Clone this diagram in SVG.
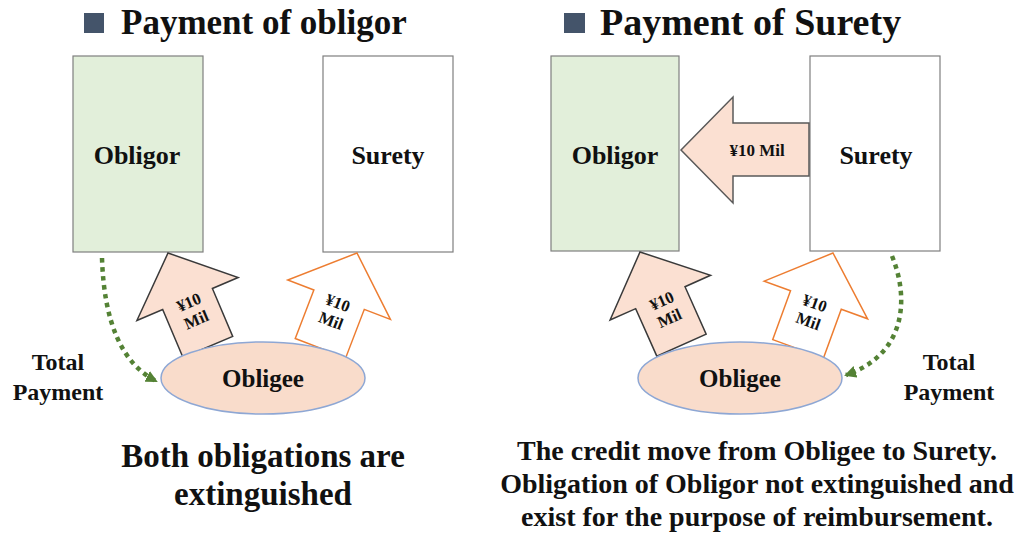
<svg xmlns="http://www.w3.org/2000/svg" width="1016" height="537" viewBox="0 0 1016 537">
<style>
text{font-family:"Liberation Serif","Times New Roman",serif;font-weight:bold;fill:#111;text-anchor:middle}
.title{text-anchor:start}
.box{stroke:#7f7f7f;stroke-width:1.2}
.green{fill:#e2efda}
.white{fill:#fff}
.pink{fill:#fbe0d2;stroke:#3a3a3a;stroke-width:1.5}
.orange{fill:#fff;stroke:#ed7d31;stroke-width:1.5}
.ell{fill:#f9dccb;stroke:#8ea7d4;stroke-width:1.5}
.dot{fill:none;stroke:#548235;stroke-width:4.5;stroke-dasharray:4.5 4.5}
.bul{fill:#44546a}
.al{font-size:16.5px}
</style>
<defs>
<polygon id="arr" points="0,0 55,50 27,50 27,102 -27,102 -27,50 -55,50"/>
<marker id="gh" viewBox="0 0 12 12" refX="10" refY="6" markerWidth="12" markerHeight="12" markerUnits="userSpaceOnUse" orient="auto">
<path d="M0,0 L12,6 L0,12 Z" fill="#548235"/>
</marker>
</defs>

<!-- Left panel -->
<rect class="bul" x="84" y="13" width="20" height="20"/>
<text class="title" x="121" y="34" font-size="35">Payment of obligor</text>

<g id="l-obligor">
<rect class="box green" x="73" y="56" width="130" height="196"/>
<text x="137" y="164" font-size="26">Obligor</text>
</g>
<g id="l-surety">
<rect class="box white" x="323" y="56" width="130" height="196"/>
<text x="388" y="164" font-size="26">Surety</text>
</g>

<g id="l-arrow-obligor">
<g transform="translate(168,253) rotate(-23)">
<use href="#arr" class="pink"/>
<text class="al" x="0" y="59">¥10</text>
<text class="al" x="0" y="78">Mil</text>
</g>
</g>
<g id="l-arrow-surety">
<g transform="translate(357,253) rotate(21)">
<use href="#arr" class="orange"/>
<text class="al" x="0" y="59">¥10</text>
<text class="al" x="0" y="78">Mil</text>
</g>
</g>

<g id="l-obligee">
<ellipse class="ell" cx="263" cy="378" rx="102" ry="36"/>
<text x="263" y="387" font-size="25">Obligee</text>
</g>

<g id="l-connectors">
<path class="dot" d="M102,258 Q105,355 156,381" marker-end="url(#gh)"/>
</g>
<g id="l-total">
<text x="58" y="370" font-size="24">Total</text>
<text x="58" y="400" font-size="24">Payment</text>
</g>

<text x="263" y="467" font-size="33">Both obligations are</text>
<text x="263" y="505" font-size="33">extinguished</text>

<!-- Right panel -->
<rect class="bul" x="564" y="13" width="21" height="20"/>
<text class="title" x="600" y="35" font-size="38">Payment of Surety</text>

<g id="r-obligor">
<rect class="box green" x="551" y="56" width="128" height="195"/>
<text x="615" y="164" font-size="26">Obligor</text>
</g>
<g id="r-surety">
<rect class="box white" x="810" y="56" width="130" height="195"/>
<text x="876" y="164" font-size="26">Surety</text>
</g>

<g id="r-arrow-reimb">
<polygon class="pink" style="stroke:#595959" points="681,150 733,97 733,123 809,123 809,176 733,176 733,203"/>
<text x="757" y="156" font-size="17">¥10 Mil</text>
</g>

<g id="r-arrow-obligor">
<g transform="translate(640,252) rotate(-24)">
<use href="#arr" class="pink"/>
<text class="al" x="0" y="59">¥10</text>
<text class="al" x="0" y="78">Mil</text>
</g>
</g>
<g id="r-arrow-surety">
<g transform="translate(833,253) rotate(20)">
<use href="#arr" class="orange"/>
<text class="al" x="0" y="59">¥10</text>
<text class="al" x="0" y="78">Mil</text>
</g>
</g>

<g id="r-obligee">
<ellipse class="ell" cx="740" cy="378" rx="102" ry="36"/>
<text x="740" y="387" font-size="25">Obligee</text>
</g>

<g id="r-connectors">
<path class="dot" d="M892,256 C910,300 905,355 846,375" marker-end="url(#gh)"/>
</g>
<g id="r-total">
<text x="949" y="370" font-size="24">Total</text>
<text x="949" y="400" font-size="24">Payment</text>
</g>

<text x="757" y="460" font-size="28">The credit move from Obligee to Surety.</text>
<text x="757" y="493" font-size="28">Obligation of Obligor not extinguished and</text>
<text x="757" y="526" font-size="28">exist for the purpose of reimbursement.</text>
</svg>
